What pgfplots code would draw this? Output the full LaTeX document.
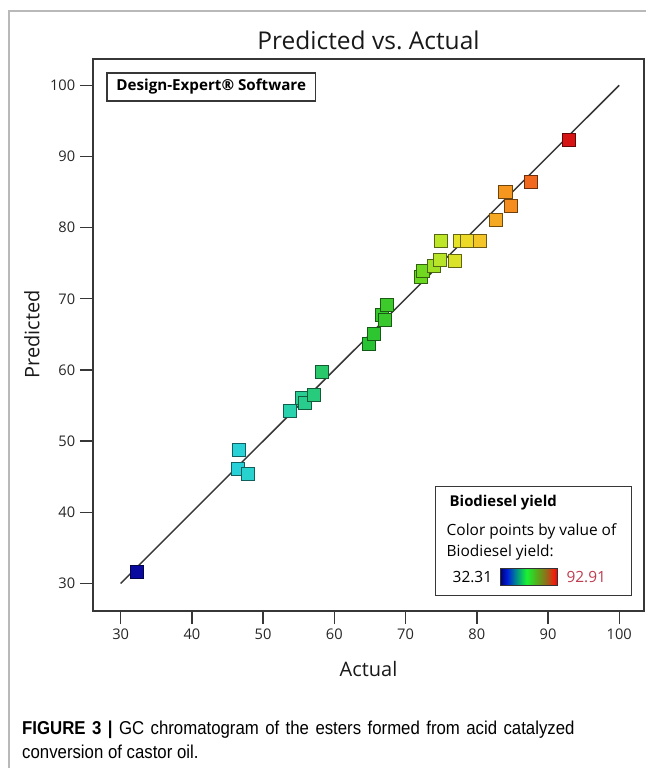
\documentclass[border=0pt]{standalone}
\usepackage{pgfplots}
\pgfplotsset{compat=1.18}
\usepackage{fontspec}
\setmainfont{Open Sans}
\newfontfamily\capfont[FakeStretch=0.9]{Liberation Sans}

\definecolor{axisgray}{RGB}{55,55,55}
\definecolor{framegray}{RGB}{185,185,185}
\definecolor{maxred}{RGB}{190,60,80}

% colour bar of the legend box
\pgfdeclarehorizontalshading{dxbar}{100bp}{rgb(0bp)=(0,0,0.45); rgb(25bp)=(0,0,0.45);
  rgb(31bp)=(0,0.12,0.85); rgb(39bp)=(0,0.55,0.55); rgb(48bp)=(0.1,0.95,0.2);
  rgb(58bp)=(0.35,0.65,0.1); rgb(66bp)=(0.6,0.4,0.1); rgb(72bp)=(0.95,0.12,0.05);
  rgb(75bp)=(0.85,0.05,0.05); rgb(100bp)=(0.85,0.05,0.05)}

\pgfplotsset{colormap={dx}{
  rgb255(32.31pt)=(10,10,160);
  rgb255(46.5pt)=(40,210,215);
  rgb255(54pt)=(40,210,170);
  rgb255(58pt)=(40,200,110);
  rgb255(65pt)=(40,195,50);
  rgb255(72pt)=(100,215,30);
  rgb255(75pt)=(190,230,40);
  rgb255(78pt)=(235,225,40);
  rgb255(81pt)=(245,190,40);
  rgb255(84pt)=(245,150,30);
  rgb255(88pt)=(240,100,30);
  rgb255(92.91pt)=(215,20,20)}}

\begin{document}
\begin{tikzpicture}
% pixel frame of the reference (origin top left, y down)
\begin{scope}[x=0.75pt,y=-0.75pt,xshift=-69.75pt,yshift=459pt]
  \useasboundingbox (0,0) rectangle (647,769);
\end{scope}

\begin{axis}[
    scale only axis,
    width=414pt, height=414.75pt,
    xmin=26.1, xmax=103.5,
    ymin=26.1, ymax=103.7,
    xtick={30,40,...,100}, ytick={30,40,...,100},
    xtick pos=left, ytick pos=left,
    tick align=outside,
    major tick length=9.75pt,
    tick style={axisgray, line width=1.1pt},
    axis line style={axisgray, line width=1.5pt},
    ticklabel style={font=\fontsize{11}{13}\selectfont, text=black!85},
    /pgf/number format/assume math mode=true,
    colormap name=dx,
]
\addplot[axisgray, line width=1.1pt] coordinates {(30,30) (100,100)};

\addplot[scatter, only marks, mark=square*, mark size=4.9pt,
    point meta=x, point meta min=32.31, point meta max=92.91,
    scatter/use mapped color={draw=mapped color!45!black, fill=mapped color}]
coordinates {
    (32.31,31.6) (46.6,48.8) (46.4,46.1) (47.9,45.4)
    (53.7,54.3) (55.5,56.1) (55.9,55.4) (57.1,56.5) (58.3,59.8)
    (64.8,63.7) (65.6,65.1) (66.6,67.8) (67.1,67.1) (67.4,69.2)
    (72.2,73.1) (72.4,73.9) (74.0,74.6) (74.8,75.5) (75.0,78.1)
    (76.9,75.3) (77.6,78.1) (78.6,78.1) (80.4,78.1)
    (82.6,81.1) (84.0,85.1) (84.8,83.0) (87.6,86.5) (92.91,92.4)
};
\end{axis}

\begin{scope}[x=0.75pt,y=-0.75pt,xshift=-69.75pt,yshift=459pt]
  % page frame
  \draw[framegray, line width=1.5pt] (9,769) -- (9,11) -- (647,11);

  % titles
  \node[font=\fontsize{18.4}{22}\selectfont, text=black!90] at (369,40) {Predicted vs.\ Actual};
  \node[font=\fontsize{15}{18}\selectfont, text=black!90] at (369,670) {Actual};
  \node[font=\fontsize{15}{18}\selectfont, text=black!90, rotate=90] at (32,335) {Predicted};

  % software box
  \draw[axisgray, line width=1pt] (107,73) rectangle (316,101);
  \node[font=\bfseries\fontsize{11.4}{13}\selectfont] at (211.5,87) {Design-Expert® Software};

  % colour legend
  \draw[axisgray, line width=1pt] (436,487) rectangle (632,596);
  \node[anchor=west, inner sep=0, font=\bfseries\fontsize{11.2}{13}\selectfont] at (450,503) {Biodiesel yield};
  \node[anchor=west, inner sep=0, font=\fontsize{11.6}{13}\selectfont] at (447,532) {Color points by value of};
  \node[anchor=west, inner sep=0, font=\fontsize{11.6}{13}\selectfont] at (447,553) {Biodiesel yield:};
  \node[anchor=west, inner sep=0, font=\fontsize{11.6}{13}\selectfont] at (453,578) {32.31};
  \shade[shading=dxbar, draw=black!80, line width=0.8pt] (501,569) rectangle (558,586);
  \node[anchor=west, inner sep=0, font=\fontsize{11.6}{13}\selectfont, text=maxred] at (567,578) {92.91};

  % caption (first line justified to the column width)
  \node[anchor=base west, inner sep=0, font=\capfont\fontsize{14}{17}\selectfont] at (22,735)
    {\makebox[414.75pt][s]{\textbf{FIGURE 3 |} GC chromatogram of the esters formed from acid catalyzed}};
  \node[anchor=base west, inner sep=0, font=\capfont\fontsize{14}{17}\selectfont] at (22,759)
    {conversion of castor oil.};
\end{scope}
\end{tikzpicture}
\end{document}
